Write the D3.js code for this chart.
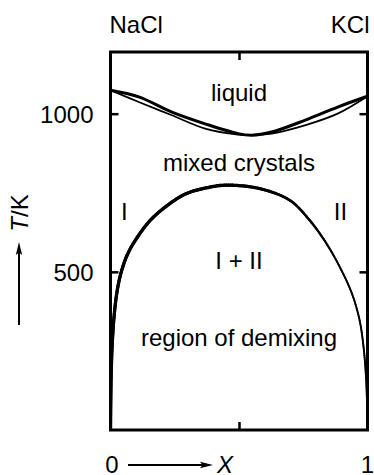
<!DOCTYPE html>
<html>
<head>
<meta charset="utf-8">
<script src="https://cdn.jsdelivr.net/npm/d3@7"></script>
<style>
  html, body { margin: 0; padding: 0; background: #fff; }
  svg { display: block; }
  text { font-family: "Liberation Sans", Arial, Helvetica, sans-serif; fill: #000; }
</style>
</head>
<body>
<script>
// NaCl–KCl phase diagram: liquidus, solidus and the miscibility gap of the solid solution

// Liquidus (upper) and solidus (lower) curves, mole fraction X of KCl vs T in K
const meltX       = [0, 0.11, 0.239, 0.368, 0.496, 0.55, 0.627, 0.756, 0.884, 1];
const liquidusT   = [1074, 1053, 1005, 968, 937, 932, 942, 979, 1021, 1055];
const solidusT    = [1074, 1037, 995, 953, 934, 932, 937, 963, 1000, 1055];

// Solvus (boundary of the region of demixing), from the NaCl side over the top to the KCl side
const gapX = [0, 0.002, 0.006, 0.014, 0.026, 0.042, 0.066, 0.097, 0.155, 0.233, 0.297, 0.388, 0.452,
              0.581, 0.698, 0.775, 0.84, 0.898, 0.94, 0.969, 0.985, 0.994, 0.998, 1];
const gapT = [0, 150, 260, 360, 440, 500, 555, 600, 663, 717, 748, 768, 774,
              763, 726, 663, 590, 506, 430, 348, 260, 170, 90, 0];

// Axis ticks and labels
const tTicks = [500, 1000];
const xTicks = [0.5];
const xEndLabels = [{ v: 0, label: "0" }, { v: 1, label: "1" }];
const components = [{ v: 0, label: "NaCl", anchor: "start" }, { v: 1, label: "KCl", anchor: "end" }];

// Region labels: [X, T, text]
const regionLabels = [
  [0.5, 1040, "liquid"],
  [0.5, 818, "mixed crystals"],
  [0.054, 664, "I"],
  [0.895, 664, "II"],
  [0.5, 510, "I + II"],
  [0.5, 264, "region of demixing"]
];

const W = 374, H = 475;
const FS = 24;

const svg = d3.select("body").append("svg")
  .attr("width", W).attr("height", H);

const x = d3.scaleLinear().domain([0, 1]).range([110.5, 367.5]);
const y = d3.scaleLinear().domain([0, 1195]).range([430, 52]);

svg.append("defs").append("clipPath").attr("id", "plot-clip")
  .append("rect")
  .attr("x", x(0)).attr("y", y(1195))
  .attr("width", x(1) - x(0)).attr("height", y(0) - y(1195));

// Inward ticks on all four sides
const tickStyle = g => {
  g.select(".domain").remove();
  g.selectAll(".tick line").attr("stroke", "#000").attr("stroke-width", 2.5);
  g.selectAll("text").style("font-size", FS + "px")
    .style("font-family", "'Liberation Sans', Arial, sans-serif").attr("fill", "#000");
};

svg.append("g").attr("transform", `translate(${x(0)},0)`)
  .call(d3.axisLeft(y).tickValues(tTicks).tickSizeInner(-8).tickSizeOuter(0)
    .tickPadding(17).tickFormat(d3.format("d")))
  .call(tickStyle)
  .selectAll("text").attr("dy", "0.36em");

svg.append("g").attr("transform", `translate(${x(1)},0)`)
  .call(d3.axisRight(y).tickValues(tTicks).tickSizeInner(-8).tickSizeOuter(0).tickFormat(""))
  .call(tickStyle);

svg.append("g").attr("transform", `translate(0,${y(1195)})`)
  .call(d3.axisTop(x).tickValues(xTicks).tickSizeInner(-8).tickSizeOuter(0).tickFormat(""))
  .call(tickStyle);

svg.append("g").attr("transform", `translate(0,${y(0)})`)
  .call(d3.axisBottom(x).tickValues(xTicks).tickSizeInner(-8).tickSizeOuter(0).tickFormat(""))
  .call(tickStyle);

const plot = svg.append("g").attr("clip-path", "url(#plot-clip)");

// Liquidus and solidus
const curveLine = d3.line()
  .x(d => x(d[0])).y(d => y(d[1]))
  .curve(d3.curveCatmullRom.alpha(0.5));

plot.append("path")
  .attr("d", curveLine(meltX.map((v, i) => [v, solidusT[i]])))
  .attr("fill", "none").attr("stroke", "#000").attr("stroke-width", 1.8);

plot.append("path")
  .attr("d", curveLine(meltX.map((v, i) => [v, liquidusT[i]])))
  .attr("fill", "none").attr("stroke", "#000").attr("stroke-width", 3);

// Solvus, drawn with a stroke that thins toward the KCl side
const guide = plot.append("path")
  .attr("d", curveLine(gapX.map((v, i) => [v, gapT[i]])))
  .attr("fill", "none").attr("stroke", "none");
const len = guide.node().getTotalLength();
const nSeg = 300;
const widthAt = t => t < 0.5 ? 3.3 : (t > 0.72 ? 1.9 : 3.3 - (t - 0.5) / 0.22 * 1.4);
const segPts = d3.range(nSeg + 1).map(i => guide.node().getPointAtLength(len * i / nSeg));
plot.append("g").selectAll("line")
  .data(d3.range(nSeg))
  .join("line")
  .attr("x1", i => segPts[i].x).attr("y1", i => segPts[i].y)
  .attr("x2", i => segPts[i + 1].x).attr("y2", i => segPts[i + 1].y)
  .attr("stroke", "#000")
  .attr("stroke-linecap", "round")
  .attr("stroke-width", i => widthAt(i / nSeg));

// Frame
svg.append("rect")
  .attr("x", x(0)).attr("y", y(1195))
  .attr("width", x(1) - x(0)).attr("height", y(0) - y(1195))
  .attr("fill", "none").attr("stroke", "#000").attr("stroke-width", 3);

// Region labels
svg.append("g").selectAll("text")
  .data(regionLabels)
  .join("text")
  .attr("x", d => x(d[0])).attr("y", d => y(d[1]))
  .attr("text-anchor", "middle")
  .style("font-size", FS + "px")
  .text(d => d[2]);

// Component names above the frame
svg.append("g").selectAll("text")
  .data(components)
  .join("text")
  .attr("x", d => x(d.v) + (d.anchor === "end" ? 2 : -1))
  .attr("y", 33)
  .attr("text-anchor", d => d.anchor)
  .style("font-size", FS + "px")
  .text(d => d.label);

// X axis end labels and arrow
svg.append("g").selectAll("text")
  .data(xEndLabels)
  .join("text")
  .attr("x", d => x(d.v) + (d.v === 0 ? 1.5 : 0))
  .attr("y", 473)
  .attr("text-anchor", "middle")
  .style("font-size", FS + "px")
  .text(d => d.label);

const arrowY = 465;
svg.append("line")
  .attr("x1", 128).attr("y1", arrowY).attr("x2", 204).attr("y2", arrowY)
  .attr("stroke", "#000").attr("stroke-width", 2);
svg.append("path")
  .attr("d", `M213,${arrowY} L200,${arrowY - 3.2} L202.5,${arrowY} L200,${arrowY + 3.2} Z`)
  .attr("fill", "#000");
svg.append("text")
  .attr("x", 217).attr("y", 473)
  .style("font-size", FS + "px").style("font-style", "italic")
  .text("X");

// T axis label and arrow
const arrowX = 19;
svg.append("line")
  .attr("x1", arrowX).attr("y1", 325).attr("x2", arrowX).attr("y2", 251)
  .attr("stroke", "#000").attr("stroke-width", 2);
svg.append("path")
  .attr("d", `M${arrowX},242 L${arrowX - 3.2},255 L${arrowX},252.5 L${arrowX + 3.2},255 Z`)
  .attr("fill", "#000");
const tLabel = svg.append("text")
  .attr("transform", "translate(28,213) rotate(-90)")
  .attr("text-anchor", "middle")
  .style("font-size", FS + "px");
tLabel.append("tspan").style("font-style", "italic").text("T");
tLabel.append("tspan").text("/K");
</script>
</body>
</html>
